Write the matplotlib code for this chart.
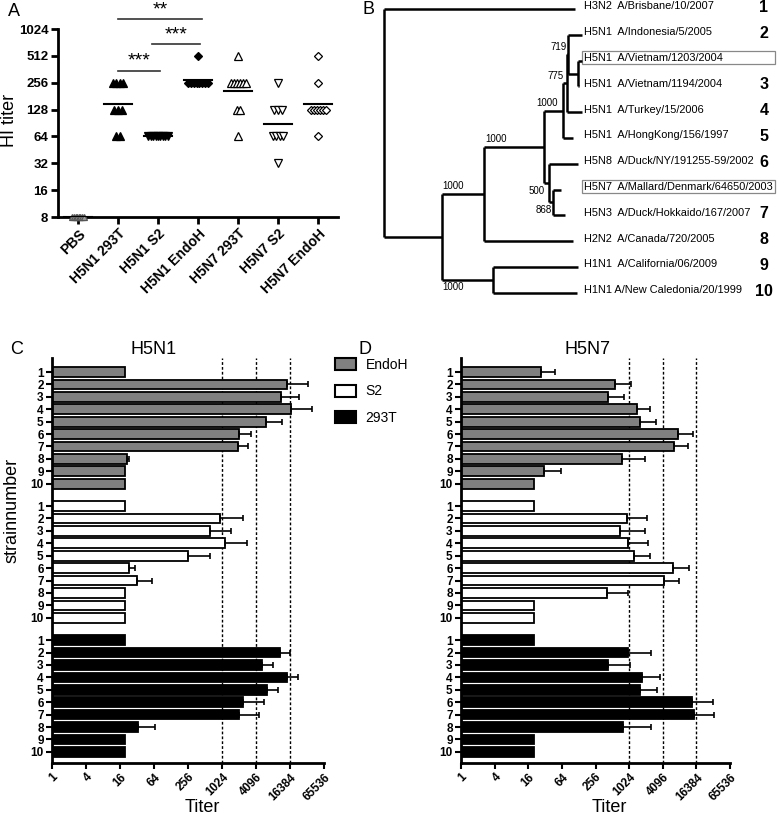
import numpy as np
import matplotlib.pyplot as plt
from matplotlib.patches import Rectangle, Patch

plt.rcParams['font.family'] = 'Liberation Sans'

# ---------------- panel A: HI titers per mouse ----------------
groups_a = ['PBS', 'H5N1 293T', 'H5N1 S2', 'H5N1 EndoH',
            'H5N7 293T', 'H5N7 S2', 'H5N7 EndoH']
titers_a = [
    [8, 8, 8, 8, 8, 8, 8, 8],
    [256, 256, 256, 256, 128, 128, 128, 64, 64],
    [64, 64, 64, 64, 64, 64, 64, 64, 64],
    [512, 256, 256, 256, 256, 256, 256, 256, 256],
    [512, 256, 256, 256, 256, 256, 256, 128, 128, 64],
    [256, 128, 128, 128, 64, 64, 64, 64, 32],
    [512, 256, 128, 128, 128, 128, 128, 128, 64],
]
yticks_a = [8, 16, 32, 64, 128, 256, 512, 1024]
# significance: (x from, x to, stars, height as axes fraction)
sig_a = [(1.0, 2.05, '***', 0.778), (1.85, 3.05, '***', 0.918), (1.0, 3.1, '**', 1.053)]

# ---------------- panel B: tree ----------------
leaf_labels = ['H3N2  A/Brisbane/10/2007', 'H5N1  A/Indonesia/5/2005',
               'H5N1  A/Vietnam/1203/2004', 'H5N1  A/Vietnam/1194/2004',
               'H5N1  A/Turkey/15/2006', 'H5N1  A/HongKong/156/1997',
               'H5N8  A/Duck/NY/191255-59/2002', 'H5N7  A/Mallard/Denmark/64650/2003',
               'H5N3  A/Duck/Hokkaido/167/2007', 'H2N2  A/Canada/720/2005',
               'H1N1  A/California/06/2009', 'H1N1 A/New Caledonia/20/1999']
leaf_numbers = ['1', '2', '', '3', '4', '5', '6', '', '7', '8', '9', '10']
boxed = [2, 7]


def leaf(i, x):
    return {'x': x, 'leaf': i}


def node(x, kids, boot=None):
    return {'x': x, 'kids': kids, 'boot': boot}


# boot = (value, ha, dx from parent, above/below)
tree = node(0, [
    leaf(0, 191),
    node(57.7, [
        node(100.3, [
            node(160, [
                node(179.3, [
                    node(182.7, [
                        node(184.3, [leaf(1, 197.7),
                                     node(193.7, [leaf(2, 197.7), leaf(3, 195)])],
                             ('719', 'right', 0, 'above')),
                        leaf(4, 197.7)], ('775', 'right', 0, 'above')),
                    leaf(5, 189.3)], ('1000', 'center', 3, 'above')),
                node(165.3, [leaf(6, 194.3),
                             node(169.3, [leaf(7, 177), leaf(8, 181)],
                                  ('868', 'right', 3, 'below'))],
                     ('500', 'right', 1, 'below'))], ('1000', 'left', 1, 'above')),
            leaf(9, 189.3)], ('1000', 'left', 1, 'above')),
        node(109.3, [leaf(10, 194.3), leaf(11, 192.7)], ('1000', 'left', 1, 'below'))])
])

# ---------------- panels C/D: titers per strain ----------------
series = ['EndoH', 'S2', '293T']
series_colors = ['#808080', 'white', 'black']
strain_nums = [str(i) for i in range(1, 11)]
xticks_cd = [1, 4, 16, 64, 256, 1024, 4096, 16384, 65536]
cutoffs = [1024, 4096, 16384]

h5n1_mean = {
    'EndoH': [20, 14260, 11350, 16840, 6080, 2048, 1940, 21.6, 20, 20],
    'S2': [20, 942, 626, 1160, 260, 22.8, 31.6, 20, 20, 20],
    '293T': [20, 10890, 5220, 14660, 6340, 2435, 2048, 33.8, 20, 20],
}
h5n1_upper = {
    'EndoH': [0, 34600, 23660, 39500, 11660, 3300, 3000, 22.8, 0, 0],
    'S2': [0, 2385, 1458, 2800, 626, 29.4, 58, 0, 0, 0],
    '293T': [0, 16384, 8300, 23000, 9880, 5750, 4670, 66.7, 0, 0],
}
h5n7_mean = {
    'EndoH': [27.5, 568, 422, 1409, 1607, 7750, 6470, 771, 30.5, 20],
    'S2': [20, 929, 709, 996, 1261, 6340, 4300, 404, 20, 20],
    '293T': [20, 962, 422, 1722, 1574, 13780, 14760, 792, 20, 20],
}
h5n7_upper = {
    'EndoH': [49.2, 1097, 815, 2419, 3147, 14160, 11660, 1951, 62.2, 0],
    'S2': [0, 2180, 1951, 2273, 2419, 12330, 7970, 982, 0, 0],
    '293T': [0, 2487, 1067, 3640, 3191, 32100, 33460, 2574, 0, 0],
}

W, H = 777, 818
fig = plt.figure(figsize=(W / 100, H / 100), dpi=100)


def box(x0, y0, x1, y1):
    return [x0 / W, 1 - y1 / H, (x1 - x0) / W, (y1 - y0) / H]


# ================= A =================
ax = fig.add_axes(box(58, 29, 338, 217))
ax.set_yscale('log', base=2)
markers = ['^', '^', 'v', 'D', '^', 'v', 'D']
faces = ['#9a9a9a', 'black', 'black', 'black', 'white', 'white', 'white']
sizes = [5, 5.3, 5.3, 3.8, 5.3, 5.3, 3.8]
steps = [0.04, 0.09, 0.06, 0.07, 0.075, 0.09, 0.075]
for i, vals in enumerate(titers_a):
    vals = np.array(vals, dtype=float)
    dx = np.zeros(len(vals))
    for v in np.unique(vals):
        idx = np.where(vals == v)[0]
        dx[idx] = (np.arange(len(idx)) - (len(idx) - 1) / 2) * steps[i]
    ax.plot(i + dx, vals, ls='none', marker=markers[i], ms=sizes[i],
            mfc=faces[i], mec='black' if i else '#555555', mew=0.9,
            clip_on=False, zorder=3)
    gm = 2 ** np.mean(np.log2(vals))
    ax.plot([i - 0.34, i + 0.34], [gm, gm], color='black', lw=1.5, zorder=4)
ax.set_ylim(8, 1024)
ax.set_xlim(-0.5, 6.5)
ax.set_yticks(yticks_a)
ax.set_yticklabels([str(t) for t in yticks_a], fontsize=9.5, fontweight='bold')
ax.yaxis.set_minor_locator(plt.NullLocator())
ax.set_xticks(range(len(groups_a)))
ax.set_xticklabels(groups_a, rotation=45, ha='right', rotation_mode='anchor',
                   fontsize=10, fontweight='bold')
for s in ['top', 'right']:
    ax.spines[s].set_visible(False)
for s in ['left', 'bottom']:
    ax.spines[s].set_linewidth(2)
ax.tick_params(width=2, length=5, pad=2)
for x0, x1, stars, yy in sig_a:
    ax.plot([x0, x1], [yy, yy], color='#333333', lw=1.2,
            transform=ax.get_xaxis_transform(), clip_on=False)
    ax.text((x0 + x1) / 2, yy + 0.005, stars, ha='center', va='bottom',
            fontsize=14, transform=ax.get_xaxis_transform())
fig.text(10 / W, 1 - 120 / H, 'HI titer', fontsize=13, rotation=90,
         ha='center', va='center')
fig.text(8 / W, 1 - 12 / H, 'A', fontsize=13, va='center')

# ================= B =================
axb = fig.add_axes(box(360, 0, 777, 300))
axb.axis('off')
axb.set_xlim(-24, 393)
axb.set_ylim(11.28, -0.35)
lw_tree = 1.8


def draw(nd, parent_x=None):
    if 'leaf' in nd:
        return nd['leaf']
    ys = [draw(k, nd['x']) for k in nd['kids']]
    axb.plot([nd['x'], nd['x']], [ys[0], ys[-1]], color='black', lw=lw_tree,
             solid_capstyle='butt')
    for k, yk in zip(nd['kids'], ys):
        axb.plot([nd['x'], k['x']], [yk, yk], color='black', lw=lw_tree,
                 solid_capstyle='butt')
    y = (ys[0] + ys[-1]) / 2
    if nd.get('boot'):
        val, ha, dx, where = nd['boot']
        if where == 'above':
            axb.text(parent_x + dx, y - 0.1, val, ha=ha, va='bottom', fontsize=7)
        else:
            axb.text(parent_x + dx, y + 0.1, val, ha=ha, va='top', fontsize=7)
    return y


draw(tree)
for i, lab in enumerate(leaf_labels):
    axb.text(200, i - 0.1, lab, ha='left', va='center', fontsize=7.9)
    if leaf_numbers[i]:
        axb.text(380, i - 0.06, leaf_numbers[i], ha='center', va='center',
                 fontsize=11.5, fontweight='bold')
for i in boxed:
    axb.add_patch(Rectangle((197.5, i - 0.37), 193.5, 0.5, fill=False,
                            edgecolor='#888888', lw=0.9))
fig.text(362 / W, 1 - 10 / H, 'B', fontsize=13, va='center')

# ================= C / D =================
gstep = 10.8


def titer_panel(axc, means, uppers):
    axc.set_xscale('log', base=2)
    for k, name in enumerate(series):
        ys = np.arange(10) + k * gstep
        v = np.array(means[name], dtype=float)
        up = np.array(uppers[name], dtype=float)
        axc.barh(ys, v - 1, left=1, height=0.78, color=series_colors[k],
                 edgecolor='black', linewidth=1.3, zorder=2)
        m = up > v
        axc.errorbar(v[m], ys[m], xerr=[np.zeros(m.sum()), (up - v)[m]], fmt='none',
                     ecolor='black', elinewidth=1.2, capsize=2.5, capthick=1.2, zorder=3)
    for c in cutoffs:
        axc.axvline(c, color='black', lw=1, ls=(0, (2, 1.5)), zorder=1)
    axc.set_xlim(1, 65536)
    axc.set_ylim(30.6 + 0.9, -1.13)
    yt = np.concatenate([np.arange(10) + k * gstep for k in range(3)])
    axc.set_yticks(yt)
    axc.set_yticklabels(strain_nums * 3, fontsize=8.5, fontweight='bold')
    axc.set_xticks(xticks_cd)
    axc.xaxis.set_minor_locator(plt.NullLocator())
    axc.set_xticklabels([str(t) for t in xticks_cd], rotation=45, ha='right',
                        rotation_mode='anchor', fontsize=8.5, fontweight='bold')
    for s in ['top', 'right']:
        axc.spines[s].set_visible(False)
    for s in ['left', 'bottom']:
        axc.spines[s].set_linewidth(2)
    axc.tick_params(width=1.5, length=4, pad=2)


axc = fig.add_axes(box(52, 358, 324, 763))
titer_panel(axc, h5n1_mean, h5n1_upper)
axd = fig.add_axes(box(461, 358, 730, 763))
titer_panel(axd, h5n7_mean, h5n7_upper)

fig.text(10 / W, 1 - 350 / H, 'C', fontsize=13, va='center')
fig.text(358 / W, 1 - 350 / H, 'D', fontsize=13, va='center')
fig.text(154 / W, 1 - 350 / H, 'H5N1', fontsize=13, ha='center', va='center')
fig.text(587 / W, 1 - 350 / H, 'H5N7', fontsize=13, ha='center', va='center')
fig.text(202 / W, 1 - 808 / H, 'Titer', fontsize=13, ha='center', va='center')
fig.text(609 / W, 1 - 808 / H, 'Titer', fontsize=13, ha='center', va='center')
fig.text(12 / W, 1 - 510 / H, 'strainnumber', fontsize=13, rotation=90,
         ha='center', va='center')

handles = [Patch(facecolor=c, edgecolor='black', linewidth=1.5) for c in series_colors]
fig.legend(handles, series, loc='upper left', bbox_to_anchor=(335 / W, 1 - 358 / H),
           frameon=False, fontsize=10, handlelength=1.5, handleheight=0.95,
           labelspacing=0.9, handletextpad=0.7, borderpad=0, borderaxespad=0)

fig.savefig('out.png', dpi=100)
